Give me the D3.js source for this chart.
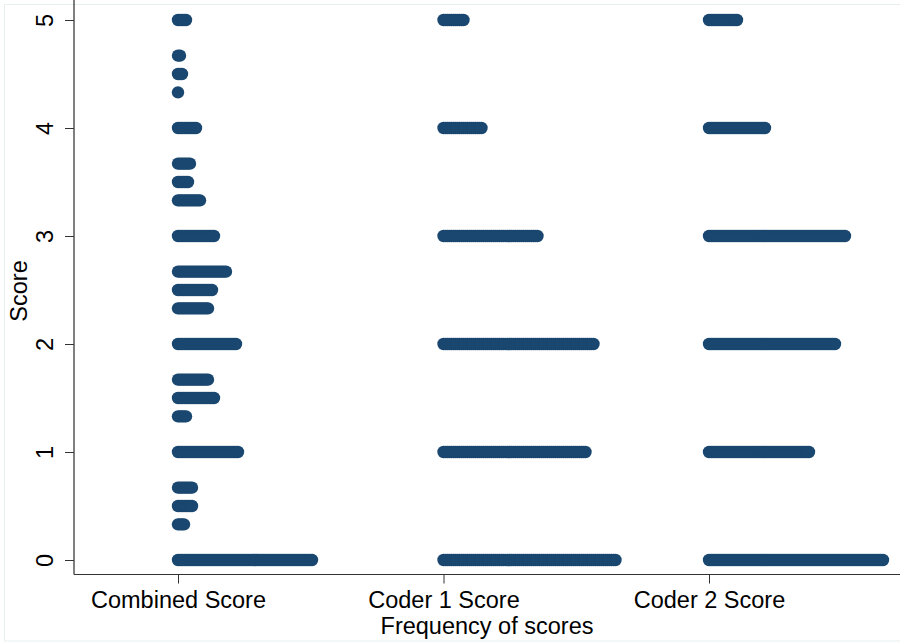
<!DOCTYPE html>
<html>
<head>
<meta charset="utf-8">
<script src="https://cdn.jsdelivr.net/npm/d3@7"></script>
<style>
  body { margin: 0; background: #fff; }
  svg { display: block; font-family: "Liberation Sans", Arial, sans-serif; }
</style>
</head>
<body>
<div id="chart"></div>
<script>
// columns of the dot plot
const columns = ["Combined Score", "Coder 1 Score", "Coder 2 Score"];

const combinedScores = [0, 0.33, 0.5, 0.67, 1, 1.33, 1.5, 1.67, 2, 2.33, 2.5, 2.67, 3, 3.33, 3.5, 3.67, 4, 4.33, 4.5, 4.67, 5];
const combinedCounts = [68, 4, 8, 8, 31, 5, 19, 16, 30, 16, 18, 25, 19, 12, 6, 7, 10, 1, 3, 2, 5];

const coderScores = [0, 1, 2, 3, 4, 5];
const coder1Counts = [87, 72, 76, 48, 20, 11];
const coder2Counts = [88, 51, 64, 69, 29, 15];

const yTicks = [0, 1, 2, 3, 4, 5];

const width = 900;
const height = 644;
const margin = ({top: 20, right: 0, bottom: 70, left: 74});
const navy = "#1a476f";
const fontSize = 23.5;

function _dots(scores, counts, col) {
  const out = [];
  scores.forEach((s, i) => {
    for (let k = 0; k < counts[i]; k++) out.push({col: col, score: s, k: k});
  });
  return out;
}

const dots = [].concat(
  _dots(combinedScores, combinedCounts, columns[0]),
  _dots(coderScores, coder1Counts, columns[1]),
  _dots(coderScores, coder2Counts, columns[2])
);

const x = d3.scalePoint()
  .domain(columns)
  .range([178, 709]);

// one dot step along the frequency direction
const freq = d3.scaleLinear()
  .domain([0, 100])
  .range([0, 200]);

const y = d3.scaleLinear()
  .domain([0, 5])
  .range([560, 20]);

const svg = d3.select("#chart").append("svg")
  .attr("width", width)
  .attr("height", height);

// faint outer frame
svg.append("rect")
  .attr("x", 4.5).attr("y", 4.5)
  .attr("width", width + 10).attr("height", 636.5)
  .attr("fill", "none")
  .attr("stroke", "#e9eff1");

const axisY = 574.5;

// y axis
const yAxis = g => g
  .attr("transform", `translate(${margin.left},0)`)
  .call(d3.axisLeft(y).tickValues(yTicks).tickSize(9).tickPadding(0).tickFormat(d3.format("d")))
  .call(g => g.select(".domain").attr("d", `M0,0V${axisY}`).attr("stroke", "#000"))
  .call(g => g.selectAll(".tick line").attr("stroke", "#333"))
  .call(g => g.selectAll(".tick text")
    .attr("transform", "rotate(-90)")
    .attr("x", 0).attr("y", -21)
    .attr("dy", 0)
    .attr("text-anchor", "middle")
    .attr("font-size", fontSize)
    .attr("fill", "#000"));

svg.append("g").call(yAxis);

// x axis
const xAxis = g => g
  .attr("transform", `translate(0,${axisY})`)
  .call(d3.axisBottom(x).tickSize(9).tickPadding(0))
  .call(g => g.select(".domain").attr("d", `M${margin.left},0H${width}`).attr("stroke", "#333"))
  .call(g => g.selectAll(".tick line").attr("stroke", "#333"))
  .call(g => g.selectAll(".tick text")
    .attr("y", 33).attr("dy", 0)
    .attr("font-size", fontSize)
    .attr("fill", "#000"));

svg.append("g").call(xAxis);

// axis titles
svg.append("text")
  .attr("transform", `translate(27,${y(2.5) + 1}) rotate(-90)`)
  .attr("text-anchor", "middle")
  .attr("font-size", fontSize)
  .text("Score");

svg.append("text")
  .attr("x", (margin.left + width) / 2)
  .attr("y", 634)
  .attr("text-anchor", "middle")
  .attr("font-size", fontSize)
  .text("Frequency of scores");

// dots
svg.append("g")
  .attr("fill", navy)
  .selectAll("circle")
  .data(dots)
  .join("circle")
    .attr("cx", d => x(d.col) + freq(d.k))
    .attr("cy", d => y(d.score))
    .attr("r", 6.2);
</script>
</body>
</html>
